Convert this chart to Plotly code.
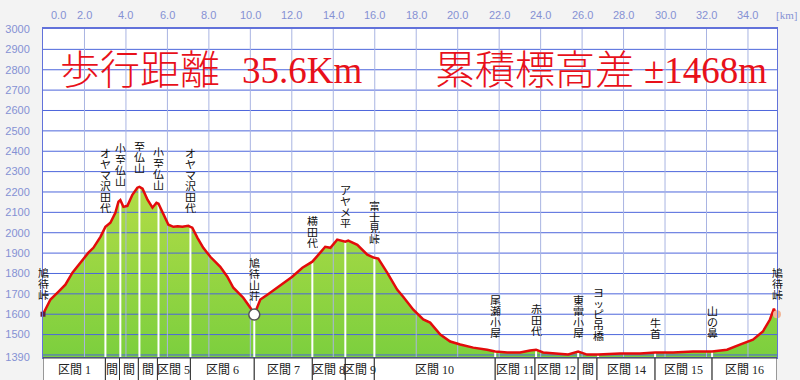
import plotly.graph_objects as go

# ---------------- data ----------------
dist_km = [0.00, 0.36, 0.75, 1.08, 1.42, 1.81, 2.19, 2.43, 2.77, 3.01, 3.25, 3.49, 3.64, 3.73,
           3.88, 4.07, 4.31, 4.55, 4.65, 4.80, 5.04, 5.28, 5.47, 5.57, 5.81, 6.05, 6.29, 6.50,
           6.72, 7.01, 7.11, 7.20, 7.45, 7.73, 8.07, 8.55, 8.89, 9.18, 9.66, 10.00, 10.19,
           10.34, 10.48, 10.82, 11.45, 12.02, 12.51, 12.99, 13.37, 13.61, 13.86, 14.19, 14.58,
           14.72, 15.16, 15.64, 15.98, 16.17, 16.60, 17.08, 17.37, 17.86, 18.34, 18.67, 19.16,
           19.64, 20.12, 20.75, 21.42, 21.81, 22.39, 23.01, 23.49, 23.78, 24.12, 24.80, 25.33,
           25.81, 26.24, 26.77, 27.83, 28.80, 29.52, 30.39, 31.35, 32.27, 32.99, 33.61, 34.24,
           34.72, 35.06, 35.25, 35.35, 35.40]
elev_m = [1600, 1672, 1711, 1745, 1804, 1853, 1902, 1926, 1980, 2029, 2049, 2098, 2152, 2160,
          2127, 2132, 2186, 2221, 2225, 2216, 2162, 2123, 2147, 2142, 2088, 2039, 2029, 2032,
          2029, 2034, 2029, 2025, 1975, 1926, 1882, 1833, 1784, 1730, 1681, 1632, 1598,
          1637, 1672, 1696, 1740, 1784, 1828, 1858, 1902, 1931, 1926, 1966, 1956,
          1961, 1941, 1892, 1877, 1873, 1804, 1721, 1686, 1622, 1574, 1559, 1500,
          1466, 1451, 1436, 1426, 1417, 1412, 1412, 1422, 1426, 1412, 1407, 1402,
          1417, 1402, 1402, 1407, 1407, 1412, 1412, 1417, 1417, 1426, 1451, 1475,
          1515, 1574, 1627, 1598, 1590]

wp_names = ["鳩待峠", "オヤマ沢田代", "小至仏山", "至仏山", "小至仏山", "オヤマ沢田代", "鳩待山荘",
            "横田代", "アヤメ平", "富士見峠", "尾瀬小屋", "赤田代", "東電小屋", "ヨッピ吊橋",
            "牛首", "山の鼻", "鳩待峠"]
wp_km = [0.00, 3.01, 3.73, 4.65, 5.57, 7.11, 10.19, 12.99, 14.58, 15.98, 21.81, 23.78, 25.81,
         26.77, 29.52, 32.27, 35.40]
wp_elev = [1600, 2029, 2160, 2225, 2142, 2029, 1598, 1858, 1956, 1877, 1417, 1426, 1417,
           1402, 1412, 1417, 1600]

seg_bounds_km = [0.00, 3.01, 3.69, 4.60, 5.52, 7.11, 10.19, 12.99, 14.58, 15.98, 21.81,
                 23.73, 25.81, 26.72, 29.52, 32.27, 35.40]
seg_labels = ["区間 1", "間", "間", "間", "区間 5", "区間 6", "区間 7", "区間 8", "区間 9",
              "区間 10", "区間 11", "区間 12", "間", "区間 14", "区間 15", "区間 16"]

x_ticks = [0, 2, 4, 6, 8, 10, 12, 14, 16, 18, 20, 22, 24, 26, 28, 30, 32, 34]
x_tick_labels = ["0.0", "2.0", "4.0", "6.0", "8.0", "10.0", "12.0", "14.0", "16.0", "18.0",
                 "20.0", "22.0", "24.0", "26.0", "28.0", "30.0", "32.0", "34.0"]
y_ticks = [1390, 1500, 1600, 1700, 1800, 1900, 2000, 2100, 2200, 2300, 2400, 2500, 2600,
           2700, 2800, 2900, 3000]
y_tick_labels = [str(v) for v in y_ticks]
y_grid = [1400, 1500, 1600, 1700, 1800, 1900, 2000, 2100, 2200, 2300, 2400, 2500, 2600,
          2700, 2800, 2900]

title_parts = ["歩行距離", "35.6Km", "累積標高差", "±1468m"]

X_MAX = 35.4
Y_MIN, Y_MAX = 1390, 3000

# ---------------- figure ----------------
fig = go.Figure()

# green fill
fig.add_trace(go.Scatter(
    x=dist_km, y=elev_m, mode="lines", line=dict(width=0, color="rgba(0,0,0,0)"),
    fill="tozeroy",
    fillgradient=dict(type="vertical", start=Y_MIN, stop=2230,
                      colorscale=[[0, "#7ccf3e"], [1, "#b2dc46"]]),
    hoverinfo="skip", showlegend=False))

# grid lines drawn above the fill
gx, gy = [], []
for v in y_grid:
    gx += [0, X_MAX, None]
    gy += [v, v, None]
fig.add_trace(go.Scatter(x=gx, y=gy, mode="lines", line=dict(color="#4d66dc", width=1),
                         hoverinfo="skip", showlegend=False))
vx, vy = [], []
for t in x_ticks[1:]:
    vx += [t, t, None]
    vy += [Y_MIN, Y_MAX, None]
fig.add_trace(go.Scatter(x=vx, y=vy, mode="lines", line=dict(color="#a9b4e2", width=1),
                         hoverinfo="skip", showlegend=False))

# white waypoint drop lines
wx, wy = [], []
for k, e in zip(wp_km[1:-1], wp_elev[1:-1]):
    wx += [k, k, None]
    wy += [Y_MIN, e, None]
fig.add_trace(go.Scatter(x=wx, y=wy, mode="lines", line=dict(color="white", width=2),
                         hoverinfo="skip", showlegend=False))

# red profile line
fig.add_trace(go.Scatter(x=dist_km, y=elev_m, mode="lines",
                         line=dict(color="#e30b0b", width=2.5),
                         hoverinfo="skip", showlegend=False))

# markers
fig.add_trace(go.Scatter(x=[wp_km[0]], y=[wp_elev[0]], mode="markers",
                         marker=dict(symbol="square", size=5, color="#602040"),
                         hoverinfo="skip", showlegend=False, cliponaxis=False))
fig.add_trace(go.Scatter(x=[wp_km[6]], y=[wp_elev[6]], mode="markers",
                         marker=dict(size=11, color="white", line=dict(color="#555555", width=1.5)),
                         hoverinfo="skip", showlegend=False, cliponaxis=False))
fig.add_trace(go.Scatter(x=[wp_km[-1]], y=[wp_elev[-1]], mode="markers",
                         marker=dict(size=8, color="#f2b596"),
                         hoverinfo="skip", showlegend=False, cliponaxis=False))

annotations = []
shapes = []

CJK = "Noto Sans CJK JP"
# waypoint vertical labels (one character per line)
for name, k, e in zip(wp_names, wp_km, wp_elev):
    chars = list(name)
    n = len(chars)
    for i, ch in enumerate(chars):
        annotations.append(dict(
            x=k, y=e, xref="x", yref="y", text=ch, showarrow=False,
            xanchor="center", yanchor="bottom", borderpad=0, height=11, valign="middle",
            yshift=13 + (n - 1 - i) * 11,
            font=dict(family=CJK, size=11, color="#111111")))

# top axis labels
for i, (t, lab) in enumerate(zip(x_ticks, x_tick_labels)):
    annotations.append(dict(
        x=t, y=1, xref="x", yref="paper", text=lab, showarrow=False,
        xanchor="center", yanchor="bottom", yshift=6, xshift=15 if i == 0 else 0,
        font=dict(family="Liberation Sans", size=11, color="#8591d4")))
annotations.append(dict(
    x=1, y=1, xref="paper", yref="paper", text="[km]", showarrow=False,
    xanchor="right", yanchor="bottom", yshift=6, xshift=22,
    font=dict(family="Liberation Serif", size=11, color="#8591d4")))

# title
PLOT_W = 800 - 43 - 23
title_x_px = [58, 240, 433, 642]
title_sizes = [40, 37, 40, 37]
for txt, px, sz in zip(title_parts, title_x_px, title_sizes):
    annotations.append(dict(
        x=(px - 43) / PLOT_W, y=0.875, xref="paper", yref="paper", text=txt,
        showarrow=False, xanchor="left", yanchor="middle",
        font=dict(family="Liberation Serif, Noto Sans CJK JP Light, Noto Sans CJK JP DemiLight, " + CJK,
                  size=sz, color="#e8101a")))

# segment boxes below the plot
for j, lab in enumerate(seg_labels):
    a, b = seg_bounds_km[j], seg_bounds_km[j + 1]
    shapes.append(dict(type="rect", xref="x", yref="paper", x0=a, x1=b, y0=-0.2, y1=-0.003,
                       line=dict(color="#333333", width=1), fillcolor="white", layer="above"))
    annotations.append(dict(
        x=(a + b) / 2, y=-0.003, xref="x", yref="paper", text=lab, showarrow=False,
        xanchor="center", yanchor="top", yshift=-3,
        font=dict(family="Liberation Serif, " + CJK, size=12, color="#222222")))

fig.update_layout(
    width=800, height=380,
    margin=dict(l=43, r=23, t=29, b=23, pad=0, autoexpand=False),
    paper_bgcolor="#f3f3f3", plot_bgcolor="white",
    showlegend=False,
    annotations=annotations, shapes=shapes,
    xaxis=dict(range=[0, X_MAX], showgrid=False, zeroline=False, showticklabels=False,
               ticks="", showline=True, mirror=True, linecolor="#6272da", linewidth=2,
               fixedrange=True, automargin=False),
    yaxis=dict(range=[Y_MIN, Y_MAX], tickvals=y_ticks, ticktext=y_tick_labels,
               showgrid=False, zeroline=False, ticks="", ticklabelstandoff=10,
               tickfont=dict(family="Liberation Sans", size=11, color="#8591d4"),
               showline=True, mirror=True, linecolor="#6272da", linewidth=1,
               fixedrange=True, automargin=False),
)

fig.write_html("out.html")
